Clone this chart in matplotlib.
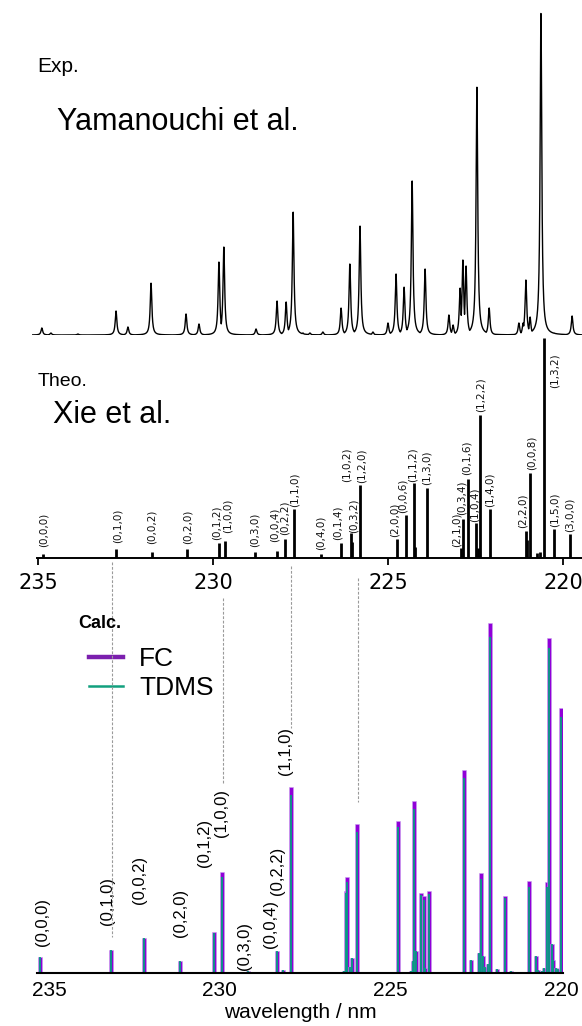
#!/usr/bin/env python3
"""
SO2 C-state absorption: experiment (Yamanouchi et al.), older theory
(Xie et al.) and our FC / TDMS stick spectra, stacked on one wavelength axis.
"""

import matplotlib
matplotlib.use("Agg")
import matplotlib.pyplot as plt
import matplotlib.transforms as mtransforms
from matplotlib.lines import Line2D
import numpy as np

plt.rcParams["font.family"] = ["Liberation Sans", "DejaVu Sans"]

EXP_NM = [234.89, 234.63, 233.86, 232.77, 232.43, 231.77, 230.77, 230.40,
          229.83, 229.69, 228.77, 228.17, 227.91, 227.71, 227.43, 227.23,
          226.86, 226.34, 226.09, 225.80, 225.43, 225.00, 224.77, 224.54,
          224.31, 223.94, 223.26, 223.14, 222.94, 222.86, 222.77, 222.51,
          222.46, 222.11, 221.26, 221.14, 221.06, 220.94, 220.63, 220.26,
          219.74]
EXP_INT = [7, 2, 1, 24, 8, 52, 21, 11,
           73, 88, 6, 34, 33, 123, 2, 2,
           3, 27, 71, 109, 3, 12, 61, 48,
           154, 66, 20, 10, 47, 75, 69, 44,
           248, 27, 12, 12, 55, 18, 323, 2,
           19]
EXP_HWHM = 0.028  # nm

# --- Xie et al. stick spectrum ---
THEO_NM = [234.857, 232.771, 231.743, 230.743, 229.829, 229.657, 228.800,
           228.171, 227.943, 227.686, 226.914, 226.343, 226.057, 226.029,
           225.800, 224.743, 224.486, 224.257, 224.229, 223.886, 222.914,
           222.857, 222.714, 222.486, 222.429, 222.371, 222.086, 221.057,
           221.029, 220.943, 220.743, 220.657, 220.543, 220.257, 219.800]
THEO_INT = [4, 9, 6, 9, 15, 17, 6,
            7, 19, 49, 4, 15, 25, 16,
            73, 19, 43, 75, 11, 70, 10,
            39, 79, 35, 10, 143, 49, 27,
            18, 85, 5, 6, 220, 29, 24]

THEO_LABELS = ["(0,0,0)", "(0,1,0)", "(0,0,2)", "(0,2,0)", "(0,1,2)",
               "(1,0,0)", "(0,3,0)", "(0,0,4)", "(0,2,2)", "(1,1,0)",
               "(0,4,0)", "(0,1,4)", "(1,0,2)", "(0,3,2)", "(1,2,0)",
               "(2,0,0)", "(0,0,6)", "(1,1,2)", "(1,3,0)", "(2,1,0)",
               "(0,3,4)", "(0,1,6)", "(1,0,4)", "(1,2,2)", "(1,4,0)",
               "(2,2,0)", "(0,0,8)", "(1,3,2)", "(1,5,0)", "(3,0,0)"]
# where each label sits (nm, height of its lower end)
THEO_LABEL_POS = [(234.829, 11), (232.714, 15), (231.743, 14), (230.714, 14),
                  (229.886, 18), (229.571, 25), (228.800, 11), (228.229, 16),
                  (227.943, 23), (227.657, 51), (226.914, 8), (226.429, 18),
                  (226.171, 76), (225.971, 25), (225.743, 75), (224.800, 21),
                  (224.571, 45), (224.286, 76), (223.886, 73), (223.029, 11),
                  (222.886, 43), (222.743, 83), (222.514, 36), (222.343, 146),
                  (222.086, 51), (221.143, 30), (220.886, 88), (220.229, 170),
                  (220.229, 31), (219.800, 26)]

# --- our calculation: FC and TDMS intensities ---
CALC_NM = [235.263, 233.186, 232.221, 231.167, 230.173, 229.939, 229.178,
           228.329, 228.154, 227.920, 226.457, 226.369, 226.311, 226.282,
           226.194, 226.135, 225.989, 225.287, 224.789, 224.555, 224.409,
           224.350, 224.321, 224.263, 224.204, 224.117, 224.029, 224.000,
           223.882, 223.444, 222.858, 222.654, 222.420, 222.361, 222.302,
           222.244, 222.156, 222.098, 221.893, 221.659, 221.483, 220.957,
           220.752, 220.693, 220.576, 220.518, 220.430, 220.372, 220.284,
           220.255, 220.167, 220.108, 220.020]
FC_INT = [16, 23, 35, 12, 41, 101, 2, 22, 3, 186,
          1, 2, 82, 96, 6, 15, 149, 1, 152, 1,
          2, 12, 172, 22, 1, 80, 77, 5, 82, 1,
          203, 13, 20, 100, 17, 6, 9, 350, 4, 77,
          2, 92, 17, 3, 2, 5, 91, 335, 29, 13,
          5, 4, 265]
TDMS_INT = [16, 23, 35, 12, 40, 96, 2, 22, 3, 178,
            1, 2, 80, 91, 6, 15, 141, 1, 146, 1,
            2, 12, 164, 22, 1, 78, 73, 5, 79, 1,
            195, 13, 20, 94, 17, 6, 9, 336, 4, 75,
            2, 86, 17, 3, 2, 5, 86, 325, 29, 13,
            5, 4, 256]

CALC_LABELS = ["(0,0,0)", "(0,1,0)", "(0,0,2)", "(0,2,0)", "(0,1,2)",
               "(1,0,0)", "(0,3,0)", "(0,0,4)", "(0,2,2)", "(1,1,0)"]
CALC_LABEL_POS = [(235.176, 27), (233.303, 48), (232.338, 69), (231.167, 36),
                  (230.465, 106), (229.939, 136), (229.266, 3), (228.534, 25),
                  (228.329, 78), (228.095, 198)]

TICKS = [235, 230, 225, 220]

# guide lines theory -> calc (nm on theory axis, top/bottom in figure px)
GUIDES = [(232.886, 562, 937), (229.714, 598, 783),
          (227.771, 566, 728), (225.857, 578, 802)]

FC_COLOR = "#9000d8"
TDMS_COLOR = "#049e82"

W, H = 582, 1026


def frame(x0, y_top, x1, y_bottom):
    """Figure-fraction rect from pixel box."""
    return [x0 / W, 1 - y_bottom / H, (x1 - x0) / W, (y_bottom - y_top) / H]


fig = plt.figure(figsize=(W / 100, H / 100), dpi=100)

# ---------------- experiment ----------------
ax_exp = fig.add_axes(frame(32, 10, 582, 335))
grid = np.linspace(235.171, 219.457, 4000)
profiles = [a / (1 + ((grid - c) / EXP_HWHM) ** 2) for c, a in zip(EXP_NM, EXP_INT)]
trace = np.max(profiles, axis=0)
ax_exp.plot(grid, trace, color="black", lw=1.0)
ax_exp.set_xlim(235.171, 219.457)
ax_exp.set_ylim(0, 325)
ax_exp.axis("off")

# ---------------- Xie et al. ----------------
ax_th = fig.add_axes(frame(37, 338, 582, 558))
ax_th.vlines(THEO_NM, 0, THEO_INT, color="black", lw=2.0)
for lab, (x, y) in zip(THEO_LABELS, THEO_LABEL_POS):
    ax_th.text(x, y, lab, rotation=90, ha="center", va="bottom",
               fontsize=7.5, family="DejaVu Sans", color="#111111")
ax_th.set_xlim(235.029, 219.457)
ax_th.set_ylim(0, 220)
for s in ["top", "right", "left"]:
    ax_th.spines[s].set_visible(False)
ax_th.spines["bottom"].set_linewidth(1.4)
ax_th.set_yticks([])
ax_th.set_xticks(TICKS)
ax_th.set_xticklabels([str(t) for t in TICKS], family="DejaVu Sans", fontsize=15)
ax_th.tick_params(axis="x", direction="out", length=5, width=1.3, pad=6)

# ---------------- our calculation ----------------
ax_c = fig.add_axes(frame(37, 600, 563, 973))
ax_c.bar(CALC_NM, FC_INT, width=0.10, color=FC_COLOR, edgecolor="#c9a0ee",
         linewidth=0.4)
ax_c.bar(CALC_NM, TDMS_INT, width=0.06, color=TDMS_COLOR, alpha=0.9,
         linewidth=0)
for lab, (x, y) in zip(CALC_LABELS, CALC_LABEL_POS):
    ax_c.text(x, y, lab, rotation=90, ha="center", va="bottom", fontsize=12)
ax_c.set_xlim(235.351, 219.962)
ax_c.set_ylim(0, 373)
for s in ["top", "right", "left"]:
    ax_c.spines[s].set_visible(False)
ax_c.spines["bottom"].set_linewidth(1.5)
ax_c.set_yticks([])
ax_c.set_xticks(TICKS)
ax_c.tick_params(axis="x", length=0, pad=6, labelsize=15)
ax_c.set_xlabel("wavelength / nm", fontsize=15, labelpad=2)

handles = [Line2D([], [], color="#7b1fae", lw=3.2),
           Line2D([], [], color="#12a07e", lw=1.8)]
ax_c.legend(handles, ["FC", "TDMS"], loc="upper left", frameon=False,
            bbox_to_anchor=(89 / W, 1 - 647 / H), bbox_transform=fig.transFigure,
            fontsize=19, handlelength=1.3, handletextpad=0.6, labelspacing=0.2,
            borderpad=0, borderaxespad=0)

# guide lines linking theory peaks to calc peaks
trans = mtransforms.blended_transform_factory(ax_th.transData, fig.transFigure)
for x, y0, y1 in GUIDES:
    fig.add_artist(Line2D([x, x], [1 - y0 / H, 1 - y1 / H], transform=trans,
                          color="#9a9a9a", lw=0.8, ls=(0, (2.5, 1.5))))

# panel captions
fig.text(37 / W, 1 - 67 / H, "Exp.", fontsize=15, va="center")
fig.text(57 / W, 1 - 122 / H, "Yamanouchi et al.", fontsize=22, va="center")
fig.text(38 / W, 1 - 381 / H, "Theo.", fontsize=14, va="center")
fig.text(53 / W, 1 - 415 / H, "Xie et al.", fontsize=22, va="center")
fig.text(78 / W, 1 - 624 / H, "Calc.", fontsize=13, weight="bold", va="center")

fig.savefig("out.png", dpi=100)
